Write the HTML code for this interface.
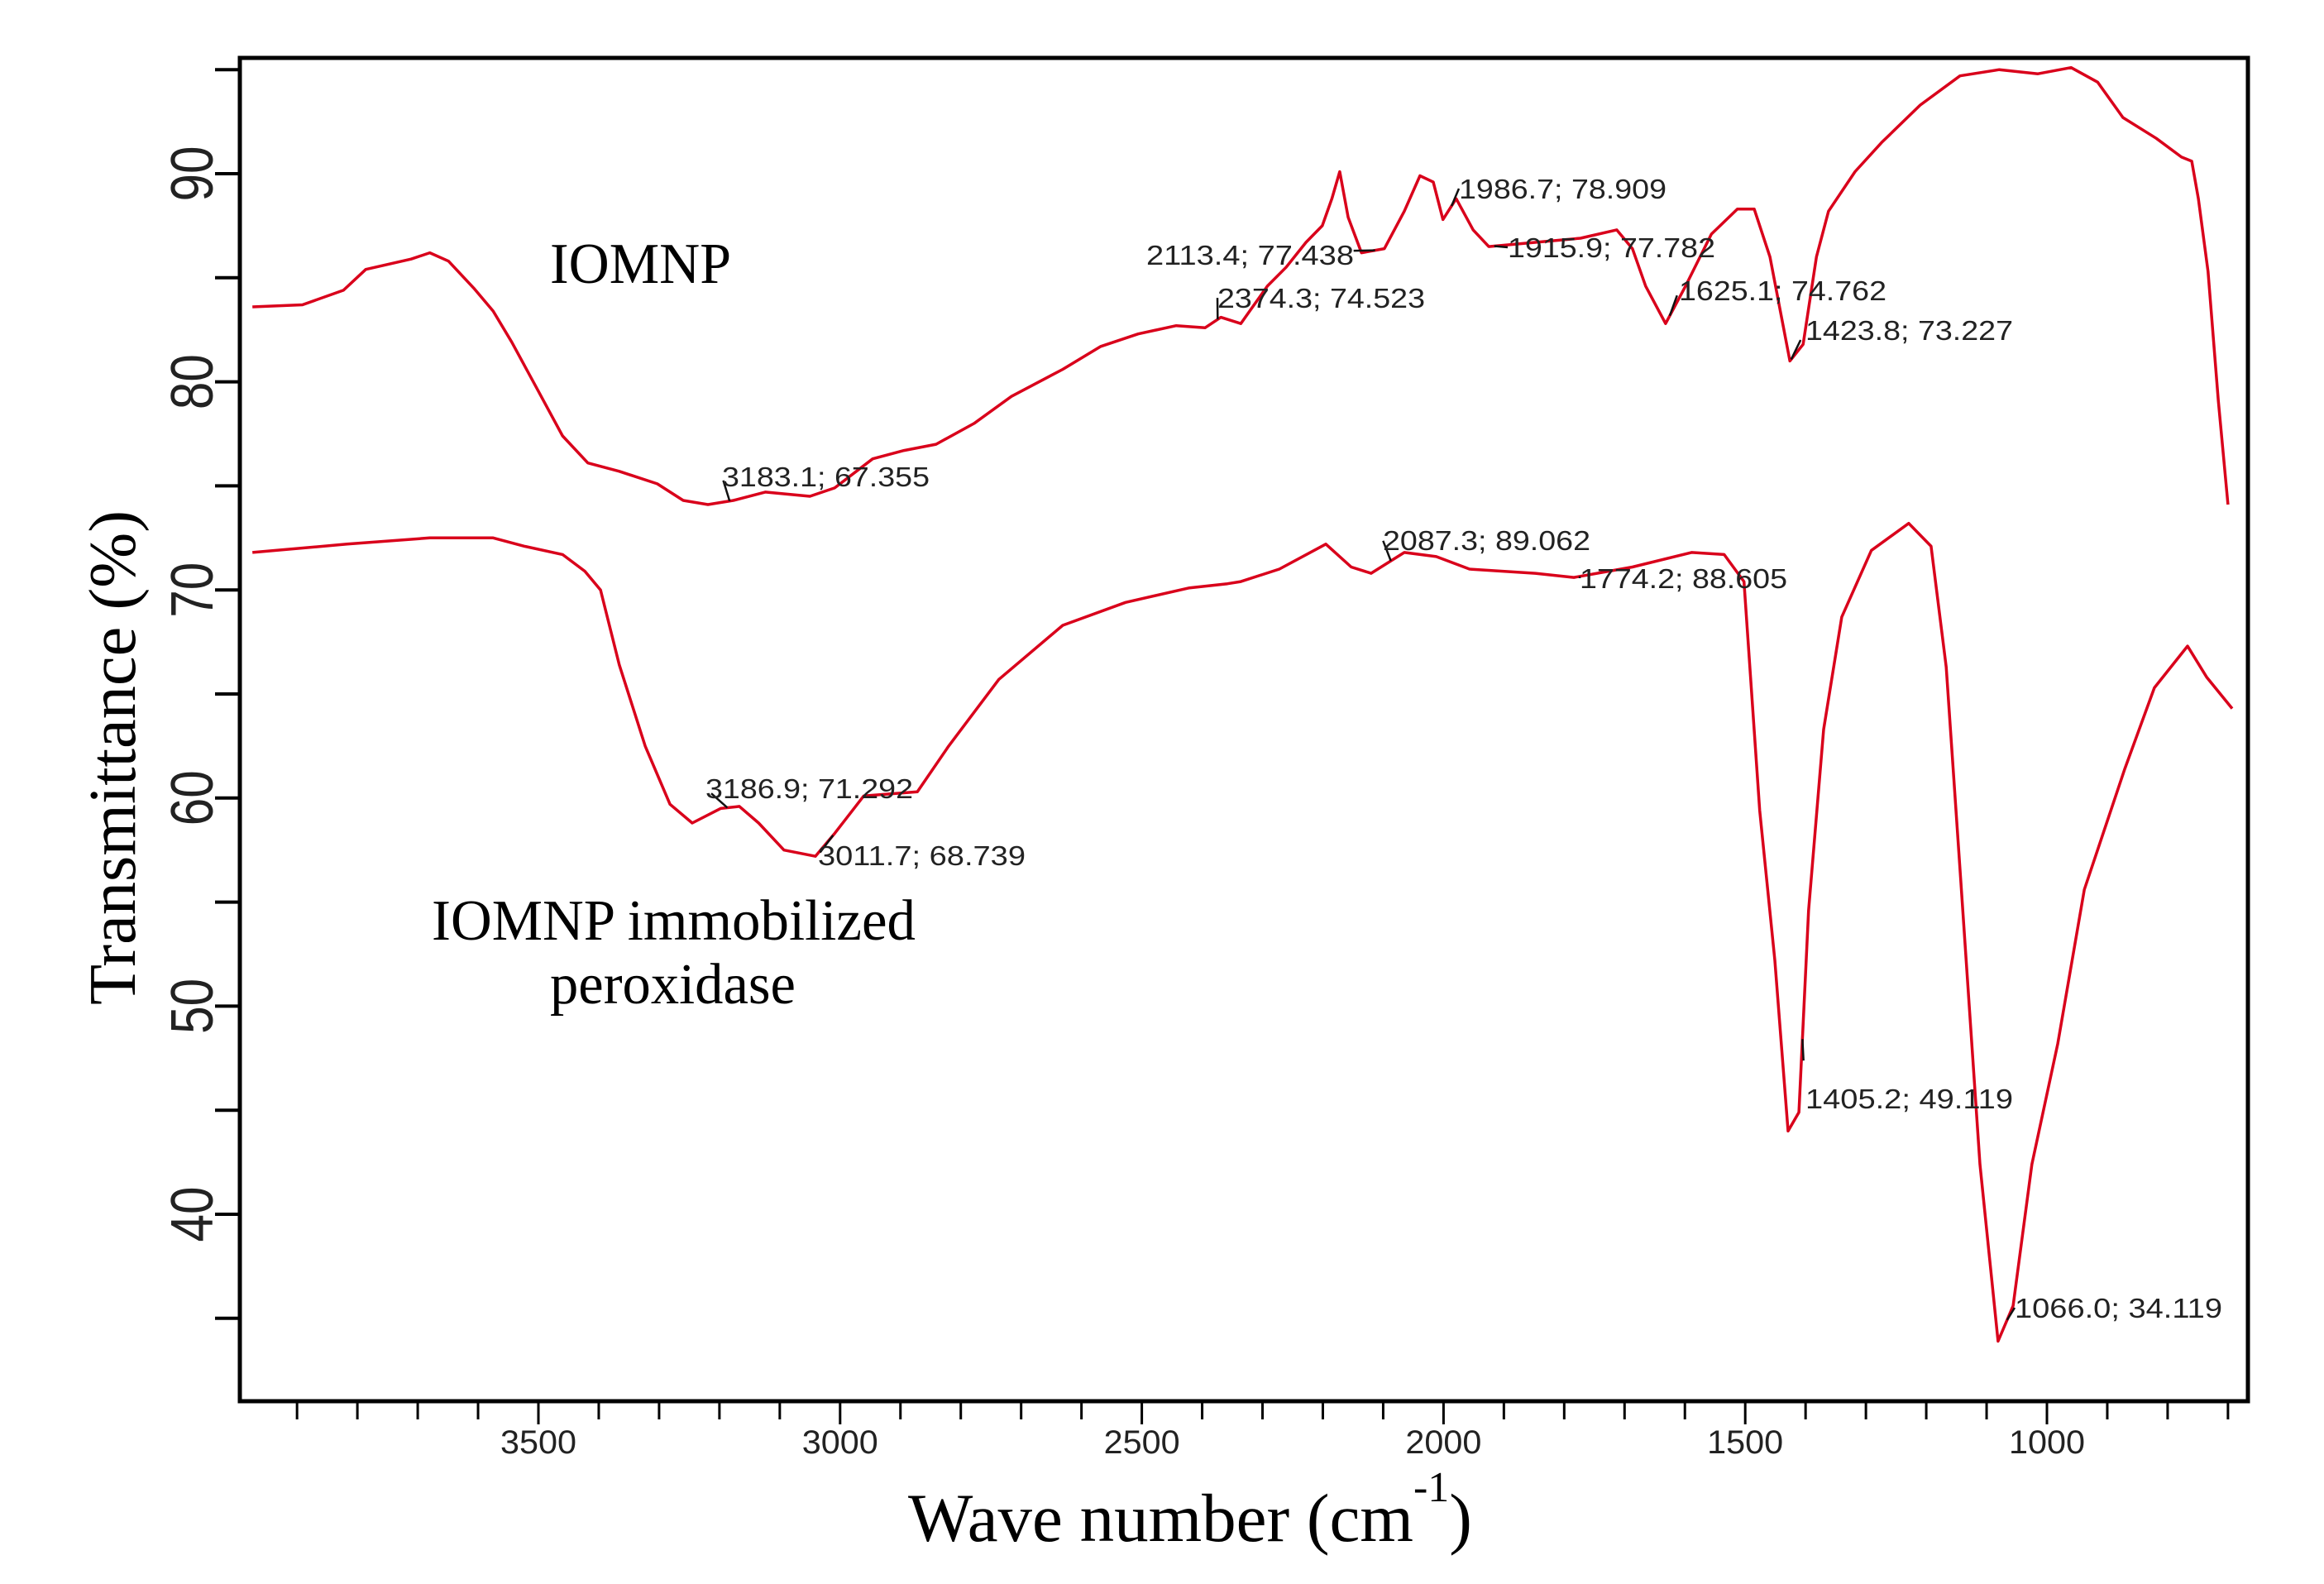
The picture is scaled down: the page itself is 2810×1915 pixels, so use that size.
<!DOCTYPE html>
<html><head><meta charset="utf-8"><style>
html,body{margin:0;padding:0;background:#fff;}
svg{display:block;}
</style></head><body>
<svg id="chart" width="2810" height="1915" viewBox="0 0 2810 1915" xmlns="http://www.w3.org/2000/svg">
<rect width="2810" height="1915" fill="#fff"/>
<g id="axes"></g>
<g id="series"></g>
<g id="annos"></g>
<text transform="translate(163,916) rotate(-90)" text-anchor="middle" font-family="Liberation Serif, serif" font-size="80" textLength="598" lengthAdjust="spacingAndGlyphs">Transmittance (%)</text>
<text x="1098" y="1863" font-family="Liberation Serif, serif" font-size="83">Wave number (cm<tspan font-size="52" dy="-48">-1</tspan><tspan dy="48">)</tspan></text>
<text x="665" y="342" font-family="Liberation Serif, serif" font-size="70" textLength="219" lengthAdjust="spacingAndGlyphs">IOMNP</text>
<text x="522" y="1136" font-family="Liberation Serif, serif" font-size="70" textLength="585" lengthAdjust="spacingAndGlyphs">IOMNP immobilized</text>
<text x="665" y="1213" font-family="Liberation Serif, serif" font-size="70" textLength="297" lengthAdjust="spacingAndGlyphs">peroxidase</text>
</svg>
<script>
// ---- data ----
const yTicks = [40, 50, 60, 70, 80, 90];
const xTicks = [3500, 3000, 2500, 2000, 1500, 1000];
const iomnpWave = [3974,3891,3823,3786,3711,3680,3649,3607,3575,3544,3501,3460,3418,3366,3303,3260,3219,3177,3124,3050,3009,2946,2894,2841,2778,2716,2631,2568,2506,2443,2395,2369,2336,2292,2261,2228,2201,2185,2172,2158,2136,2098,2065,2039,2017,2001,1979,1951,1925,1848,1773,1713,1687,1665,1632,1599,1556,1513,1485,1459,1426,1404,1382,1362,1318,1274,1210,1144,1079,1015,960,916,874,819,777,760,749,733,716,700];
const iomnpT = [83.6,83.7,84.4,85.4,85.9,86.2,85.8,84.5,83.4,81.9,79.6,77.4,76.1,75.7,75.1,74.3,74.1,74.3,74.7,74.5,74.9,76.3,76.7,77.0,78.0,79.3,80.6,81.7,82.3,82.7,82.6,83.1,82.8,84.6,85.5,86.7,87.5,88.8,90.1,87.9,86.2,86.4,88.2,89.9,89.6,87.8,88.8,87.3,86.5,86.7,86.9,87.3,86.4,84.6,82.8,84.6,87.1,88.3,88.3,86.0,81.0,81.8,86.0,88.2,90.1,91.5,93.3,94.7,95.0,94.8,95.1,94.4,92.7,91.7,90.8,90.6,88.8,85.3,79.1,74.1];
const immoWave = [3974,3817,3680,3575,3523,3460,3423,3397,3366,3323,3282,3245,3198,3167,3135,3093,3041,3009,2961,2872,2820,2737,2631,2527,2421,2358,2336,2272,2195,2153,2120,2065,2012,1957,1848,1784,1687,1589,1535,1502,1476,1451,1429,1411,1395,1370,1340,1291,1229,1192,1167,1143,1111,1081,1056,1025,982,938,871,822,767,735,693];
const immoT = [71.8,72.2,72.5,72.5,72.1,71.7,70.9,70.0,66.4,62.5,59.7,58.8,59.5,59.6,58.8,57.5,57.2,58.3,60.1,60.3,62.5,65.7,68.3,69.4,70.1,70.3,70.4,71.0,72.2,71.1,70.8,71.8,71.6,71.0,70.8,70.6,71.1,71.8,71.7,70.4,59.4,52.2,44.0,44.9,54.6,63.3,68.7,71.9,73.2,72.1,66.3,56.1,42.4,33.9,35.6,42.4,48.2,55.6,61.4,65.3,67.3,65.8,64.3];
const annoText = ["3183.1; 67.355","2374.3; 74.523","2113.4; 77.438","1986.7; 78.909","1915.9; 77.782","1625.1; 74.762","1423.8; 73.227","3186.9; 71.292","3011.7; 68.739","2087.3; 89.062","1774.2; 88.605","1405.2; 49.119","1066.0; 34.119"];
const annoWave = [3183.1,2374.3,2113.4,1986.7,1915.9,1625.1,1423.8,3186.9,3011.7,2087.3,1774.2,1405.2,1066.0];
const annoSeries = [0,0,0,0,0,0,0,1,1,1,1,1,1];
// label anchor layout (pixels)
const annoLayout = [[873,588],[1472,372],[1386,320],[1764,240],[1823,311],[2030,363],[2183,411],[853,965],[989,1046],[1672,665],[1910,711],[2183,1340],[2436,1593]];

// ---- axes functions ----
const X0 = 290, X1 = 2718, Y0 = 70, Y1 = 1694;
function xs(w){ return 2475 + (1000 - w) * 0.7296; }
function ys(v){ return 210 + (90 - v) * 25.16; }
const NS = "http://www.w3.org/2000/svg";
function mk(tag, attrs, parent){ const e = document.createElementNS(NS, tag); for (const k in attrs) e.setAttribute(k, attrs[k]); parent.appendChild(e); return e; }

const axes = document.getElementById('axes');
let f = mk('path', {d:`M${X0},${Y0} L${X1},${Y0} L${X1},${Y1} L${X0},${Y1} Z`, fill:'none', stroke:'#000', 'stroke-width':5}, axes);


for (let v = 35; v <= 95; v += 5) {
  const y = ys(v);
  const t = mk('line', {x1:X0 - 30, x2:X0, y1:y, y2:y, stroke:'#000', 'stroke-width':4}, axes);
  
  
}
yTicks.forEach(v => {
  const y = ys(v);
  const t = mk('text', {transform:`translate(257,${y}) rotate(-90)`, 'text-anchor':'middle', 'font-family':'Liberation Sans, sans-serif', 'font-size':72, fill:'#222', textLength:67, lengthAdjust:'spacingAndGlyphs'}, axes);
  t.textContent = v;
  
  
});
for (let w = 3900; w >= 700; w -= 100) {
  const x = xs(w);
  const major = w % 500 === 0;
  const t = mk('line', {x1:x, x2:x, y1:Y1, y2:Y1 + (major ? 28 : 22), stroke:'#000', 'stroke-width':3}, axes);
  
  
}
xTicks.forEach(w => {
  const t = mk('text', {x:xs(w), y:1757, 'text-anchor':'middle', 'font-family':'Liberation Sans, sans-serif', 'font-size':40, fill:'#222', textLength:92, lengthAdjust:'spacingAndGlyphs'}, axes);
  t.textContent = w;
  
  
});

// ---- series ----
const series = document.getElementById('series');
const allW = [iomnpWave, immoWave], allT = [iomnpT, immoT];
['iomnp-spectrum', 'immobilized-spectrum'].forEach((nm, i) => {
  const d = allW[i].map((w, j) => (j ? 'L' : 'M') + xs(w).toFixed(1) + ',' + ys(allT[i][j]).toFixed(1)).join(' ');
  const p = mk('path', {d:d, fill:'none', stroke:'#d9001b', 'stroke-width':3.5, 'stroke-linejoin':'round'}, series);
  
  
});
function interp(ws, ts, w){
  for (let j = 0; j < ws.length - 1; j++) {
    if ((ws[j] >= w && ws[j+1] <= w)) { const r = (ws[j] - w) / (ws[j] - ws[j+1]); return ts[j] + r * (ts[j+1] - ts[j]); }
  }
  return ts[ts.length - 1];
}
// ---- annotations ----
const annos = document.getElementById('annos');
annoText.forEach((txt, i) => {
  const s = annoSeries[i];
  const px = xs(annoWave[i]), py = ys(interp(allW[s], allT[s], annoWave[i]));
  const [lx, ly] = annoLayout[i];
  const dx = lx - px, dy = (ly - 12) - py;
  const dist = Math.hypot(dx, dy) || 1;
  const L = Math.min(dist, 26);
  const ln = mk('line', {x1:px, y1:py, x2:px + dx / dist * L, y2:py + dy / dist * L, stroke:'#111', 'stroke-width':2.5}, annos);
  
  
  const t = mk('text', {x:lx, y:ly, 'font-family':'Liberation Sans, sans-serif', 'font-size':33, fill:'#222', textLength:251, lengthAdjust:'spacingAndGlyphs'}, annos);
  t.textContent = txt;
  
  
});
</script>
</body></html>
